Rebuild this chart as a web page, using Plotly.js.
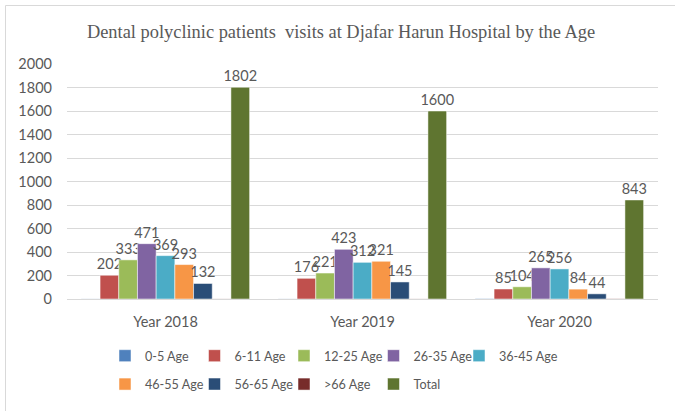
<!DOCTYPE html>
<html>
<head>
<meta charset="utf-8">
<script src="https://cdn.plot.ly/plotly-3.0.1.min.js"></script>
<style>
  html, body { margin: 0; padding: 0; background: #ffffff; }
  #chart { width: 675px; height: 411px; }
</style>
</head>
<body>
<div id="chart"></div>
<script>
// ---- Data ----
const categories = ['Year 2018', 'Year 2019', 'Year 2020'];
const seriesNames = ['0-5 Age', '6-11 Age', '12-25 Age', '26-35 Age', '36-45 Age',
                     '46-55 Age', '56-65 Age', '>66 Age', 'Total'];
const age0to5   = [1, 1, 3];        // tiny, unlabeled in the reference
const age6to11  = [202, 176, 85];
const age12to25 = [333, 221, 104];
const age26to35 = [471, 423, 265];
const age36to45 = [369, 312, 256];
const age46to55 = [293, 321, 84];
const age56to65 = [132, 145, 44];
const ageOver66 = [1, 1, 2];        // tiny, unlabeled in the reference
const totals    = [1802, 1600, 843];
const showLabels = [false, true, true, true, true, true, true, false, true];
const yTicks = [0, 200, 400, 600, 800, 1000, 1200, 1400, 1600, 1800, 2000];

const seriesValues = [age0to5, age6to11, age12to25, age26to35, age36to45,
                      age46to55, age56to65, ageOver66, totals];
const colors = ['#4F81BD', '#C0504D', '#9BBB59', '#8064A2', '#4BACC6',
                '#F79646', '#2A4D77', '#772C2A', '#5F7530'];
// Excel lays the legend out in 5 columns x 2 rows; one Plotly legend per column
const legendColumn = ['legend', 'legend2', 'legend3', 'legend4', 'legend5',
                      'legend', 'legend2', 'legend3', 'legend4'];
const legendTextX = [144, 233.5, 323, 412.5, 498];   // where each column's text starts (px)

const labelFont = { family: 'Lato, "Liberation Sans", sans-serif', size: 14.5, color: '#595959' };
const legendFont = { family: 'Lato, "Liberation Sans", sans-serif', size: 12.6, color: '#595959' };

const traces = seriesNames.map((name, i) => ({
  type: 'bar',
  name: name,
  x: categories,
  y: seriesValues[i],
  text: showLabels[i] ? seriesValues[i].map(String) : seriesValues[i].map(() => ''),
  textposition: 'outside',
  constraintext: 'none',
  cliponaxis: false,
  textfont: labelFont,
  marker: { color: colors[i], line: { color: '#ffffff', width: 0.5 } },
  legend: legendColumn[i],
  legendgroup: name,
  hoverinfo: 'x+y+name'
}));

const plotLeft = 67, plotWidth = 591;
function columnLegend(col) {
  return {
    orientation: 'v',
    xref: 'paper', yref: 'container',
    xanchor: 'left', yanchor: 'top',
    x: (legendTextX[col] - 39 - plotLeft) / plotWidth,
    y: 1 - 341 / 411,
    font: legendFont,
    bgcolor: 'rgba(0,0,0,0)',
    traceorder: 'grouped',
    tracegroupgap: 9
  };
}

const layout = {
  width: 675, height: 411,
  paper_bgcolor: '#ffffff', plot_bgcolor: '#ffffff',
  margin: { l: plotLeft, r: 675 - plotLeft - plotWidth, t: 64, b: 112, pad: 0, autoexpand: false },
  title: {
    text: 'Dental polyclinic patients \u00a0visits at Djafar Harun Hospital by the Age',
    font: { family: '"Liberation Serif", "Times New Roman", serif', size: 18.4, color: '#595959' },
    xref: 'container', yref: 'container',
    x: 341 / 675, xanchor: 'center',
    y: 1 - 32 / 411, yanchor: 'middle'
  },
  barmode: 'group',
  bargap: 0.146,
  bargroupgap: 0,
  xaxis: {
    type: 'category',
    showgrid: false,
    showline: false,
    ticks: '',
    tickfont: labelFont,
    ticklabelstandoff: 12,
    fixedrange: true
  },
  yaxis: {
    range: [0, 2000],
    tickvals: yTicks,
    ticktext: yTicks.map(String),
    showgrid: true,
    gridcolor: '#D9D9D9',
    gridwidth: 1,
    zeroline: true,
    zerolinecolor: '#D9D9D9',
    zerolinewidth: 1,
    showline: false,
    ticks: '',
    tickfont: labelFont,
    ticklabelstandoff: 14,
    fixedrange: true
  },
  showlegend: true,
  legend: columnLegend(0),
  legend2: columnLegend(1),
  legend3: columnLegend(2),
  legend4: columnLegend(3),
  legend5: columnLegend(4),
  shapes: [
    // chart-area frame (top and left edges visible in the reference)
    { type: 'line', xref: 'paper', yref: 'paper',
      x0: (5.5 - plotLeft) / plotWidth, x1: (675 - plotLeft) / plotWidth,
      y0: (299 - 5.5) / 235, y1: (299 - 5.5) / 235,
      line: { color: '#D9D9D9', width: 1 } },
    { type: 'line', xref: 'paper', yref: 'paper',
      x0: (5.5 - plotLeft) / plotWidth, x1: (5.5 - plotLeft) / plotWidth,
      y0: (299 - 5.5) / 235, y1: (299 - 411) / 235,
      line: { color: '#D9D9D9', width: 1 } }
  ]
};

Plotly.newPlot('chart', traces, layout, { displayModeBar: false, staticPlot: true });
</script>
</body>
</html>
